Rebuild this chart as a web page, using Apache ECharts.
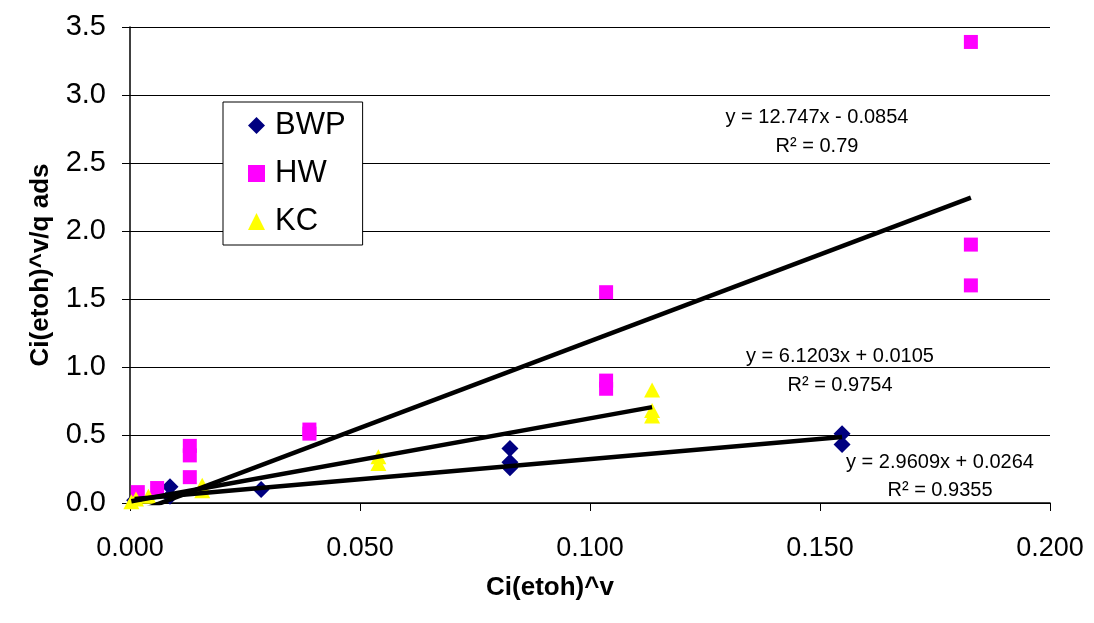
<!DOCTYPE html>
<html><head><meta charset="utf-8">
<script src="https://cdn.jsdelivr.net/npm/echarts@6/dist/echarts.min.js"></script>
<style>html,body{margin:0;padding:0;background:#fff}#c{width:1094px;height:623px}</style>
</head><body><div id="c"></div>
<script>
const seriesNames = ['BWP', 'HW', 'KC'];
const bwpX = [0.001, 0.0087, 0.0087, 0.0285, 0.0826, 0.0826, 0.0826, 0.1548, 0.1548];
const bwpY = [0.02, 0.05, 0.12, 0.10, 0.40, 0.30, 0.26, 0.51, 0.43];
const hwX = [0.0017, 0.0059, 0.013, 0.013, 0.013, 0.039, 0.039, 0.1035, 0.1035, 0.1035, 0.1828, 0.1828, 0.1828];
const hwY = [0.08, 0.11, 0.19, 0.35, 0.42, 0.51, 0.54, 0.84, 0.90, 1.55, 1.60, 1.90, 3.39];
const kcX = [0.0003, 0.0013, 0.004, 0.0157, 0.0157, 0.054, 0.054, 0.1135, 0.1135, 0.1135];
const kcY = [0.01, 0.03, 0.05, 0.09, 0.13, 0.29, 0.34, 0.64, 0.68, 0.83];
// trendline coefficients (slope, intercept) as printed on the chart
const slopes = [2.9609, 12.747, 6.1203];
const intercepts = [0.0264, -0.0854, 0.0105];
const eqTexts = ['y = 2.9609x + 0.0264', 'y = 12.747x - 0.0854', 'y = 6.1203x + 0.0105'];
const r2Texts = ['R\u00B2 = 0.9355', 'R\u00B2 = 0.79', 'R\u00B2 = 0.9754'];
const xTicks = [0, 0.05, 0.1, 0.15, 0.2];
const yTicks = [0, 0.5, 1, 1.5, 2, 2.5, 3, 3.5];

const xs = [bwpX, hwX, kcX], ys = [bwpY, hwY, kcY];
const colors = ['#000080', '#FF00FF', '#FFFF00'];
const symbols = ['diamond', 'rect', 'triangle'];
const sizes = [[17, 17], [14, 14], [16, 15]];
const FONT = '"Liberation Sans", Arial, sans-serif';

const series = [];
seriesNames.forEach((n, i) => {
  series.push({
    name: n, type: 'scatter', symbol: symbols[i], symbolSize: sizes[i],
    itemStyle: { color: colors[i], opacity: 1 },
    data: xs[i].map((x, k) => [x, ys[i][k]]), z: 2, silent: true
  });
});
seriesNames.forEach((n, i) => {
  const x0 = Math.min(...xs[i]), x1 = Math.max(...xs[i]);
  series.push({
    name: n + ' trend', type: 'line', symbol: 'none', clip: true, z: 5, silent: true,
    lineStyle: { color: '#000', width: 4.5 },
    data: [[x0, slopes[i] * x0 + intercepts[i]], [x1, slopes[i] * x1 + intercepts[i]]]
  });
});

const eqPos = [[940, 462, 490], [817, 117, 146], [840, 356, 385]];
const graphics = [];
eqPos.forEach((p, i) => {
  graphics.push({ type: 'text', x: p[0], y: p[1], style: { text: eqTexts[i], font: '20px ' + FONT, fill: '#000', align: 'center', verticalAlign: 'middle' }, z: 10 });
  graphics.push({ type: 'text', x: p[0], y: p[2], style: { text: r2Texts[i], font: '20px ' + FONT, fill: '#000', align: 'center', verticalAlign: 'middle' }, z: 10 });
});

const chart = echarts.init(document.getElementById('c'), null, { renderer: 'canvas' });
chart.setOption({
  animation: false,
  backgroundColor: '#fff',
  textStyle: { fontFamily: FONT },
  grid: { left: 130, right: 44, top: 27, bottom: 120, containLabel: false },
  xAxis: {
    type: 'value', min: xTicks[0], max: xTicks[xTicks.length - 1], interval: 0.05,
    axisLine: { show: true, onZero: false, lineStyle: { color: '#000', width: 1.5 } },
    axisTick: { show: true, inside: false, length: 8, lineStyle: { color: '#000' } },
    splitLine: { show: false },
    axisLabel: { fontSize: 27, color: '#000', margin: 32, formatter: v => v.toFixed(3) },
    name: 'Ci(etoh)^v', nameLocation: 'middle', nameGap: 72,
    nameTextStyle: { fontSize: 26, fontWeight: 'bold', color: '#000', padding: [0, 80, 0, 0] }
  },
  yAxis: {
    type: 'value', min: yTicks[0], max: yTicks[yTicks.length - 1], interval: 0.5,
    axisLine: { show: true, onZero: false, lineStyle: { color: '#000', width: 1.5 } },
    axisTick: { show: true, inside: false, length: 8, lineStyle: { color: '#000' } },
    splitLine: { show: true, lineStyle: { color: '#000', width: 1 } },
    axisLabel: { fontSize: 29, color: '#000', margin: 24, formatter: v => v.toFixed(1) },
    name: 'Ci(etoh)^v/q ads', nameLocation: 'middle', nameGap: 76, nameRotate: 90,
    nameTextStyle: { fontSize: 26, fontWeight: 'bold', color: '#000' }
  },
  legend: {
    data: seriesNames.map((n, i) => ({ name: n, icon: symbols[i] })),
    orient: 'vertical', left: 223, top: 102,
    backgroundColor: '#fff', borderColor: '#000', borderWidth: 1,
    padding: [8, 17, 8, 25], itemGap: 17, itemWidth: 17, itemHeight: 17,
    textStyle: { fontSize: 31, color: '#000', lineHeight: 30, padding: [0, 0, 0, 5] },
    selectedMode: false
  },
  graphic: graphics,
  series: series
});
</script>
</body></html>
